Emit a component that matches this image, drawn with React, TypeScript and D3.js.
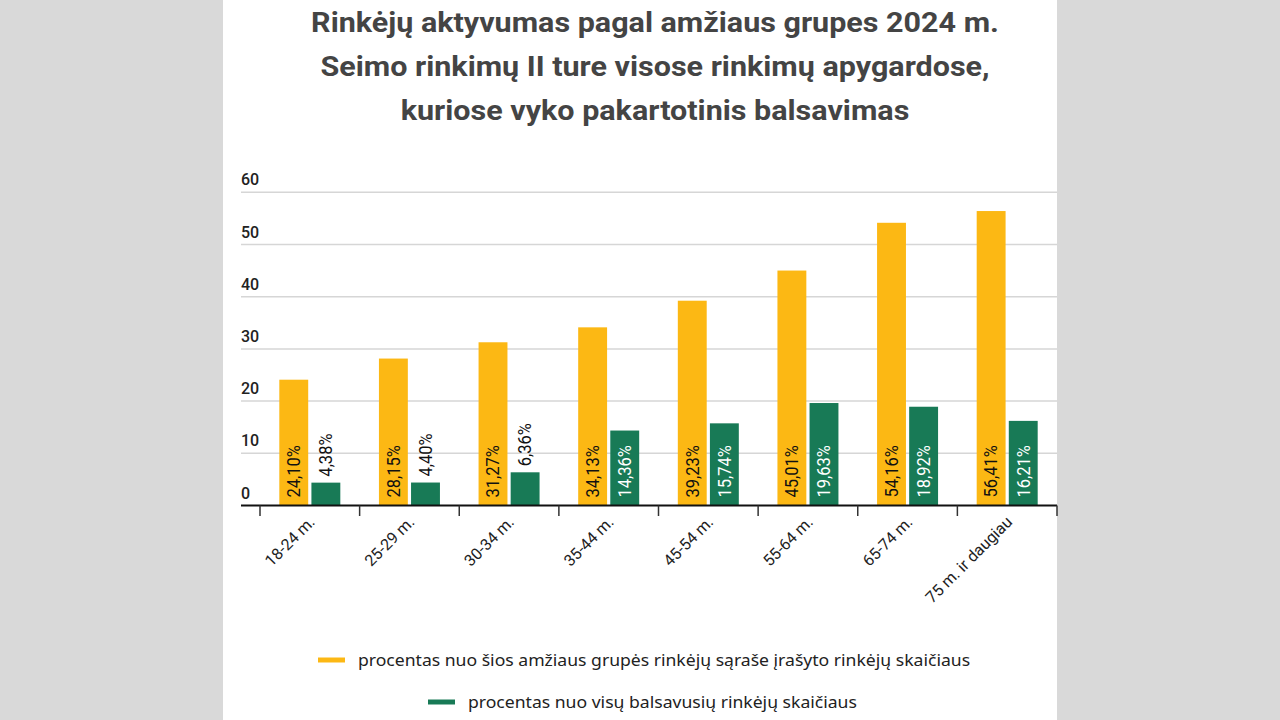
import * as d3 from "d3";
import { useEffect, useRef } from "react";

const categories = [
  "18-24 m.",
  "25-29 m.",
  "30-34 m.",
  "35-44 m.",
  "45-54 m.",
  "55-64 m.",
  "65-74 m.",
  "75 m. ir daugiau",
];
const registeredShare = [24.1, 28.15, 31.27, 34.13, 39.23, 45.01, 54.16, 56.41];
const votedShare = [4.38, 4.4, 6.36, 14.36, 15.74, 19.63, 18.92, 16.21];
const yTicks = [0, 10, 20, 30, 40, 50, 60];
const titleLines = [
  "Rinkėjų aktyvumas pagal amžiaus grupes 2024 m.",
  "Seimo rinkimų II ture visose rinkimų apygardose,",
  "kuriose vyko pakartotinis balsavimas",
];
const seriesNames = [
  "procentas nuo šios amžiaus grupės rinkėjų sąraše įrašyto rinkėjų skaičiaus",
  "procentas nuo visų balsavusių rinkėjų skaičiaus",
];

const YELLOW = "#FCB814";
const GREEN = "#187A56";
const FONT = "Roboto, 'Noto Sans', sans-serif";

export default function App() {
  const svgRef = useRef<SVGSVGElement>(null);

  useEffect(() => {
    if (!svgRef.current) return;
    const svg = d3.select(svgRef.current);
    svg.selectAll("*").remove();

    // page backdrop + white card
    svg.append("rect").attr("width", 1280).attr("height", 720).attr("fill", "#d9d9d9");
    svg.append("rect").attr("x", 223).attr("width", 834).attr("height", 720).attr("fill", "#fff");

    // title (the source image is a bit stretched sideways)
    svg
      .append("g")
      .attr("transform", "translate(655,0) scale(1.13,1)")
      .selectAll("text")
      .data(titleLines)
      .enter()
      .append("text")
      .attr("x", 0)
      .attr("y", (d, i) => 32 + i * 44)
      .attr("text-anchor", "middle")
      .style("font-family", FONT)
      .style("font-size", "27px")
      .style("font-weight", "700")
      .style("fill", "#444")
      .text((d) => d);

    const axisLeft = 241;
    const x0 = d3.scaleBand().domain(categories).range([260, 1057]);
    const x1 = d3.scaleBand().domain(["a", "b"]).range([0, 61]).paddingInner(0.1);
    const y = d3.scaleLinear().domain([0, 60]).range([505.5, 192.3]);

    // gridlines + y labels
    const grid = svg.append("g");
    grid
      .selectAll("line")
      .data(yTicks.filter((t) => t > 0))
      .enter()
      .append("line")
      .attr("x1", axisLeft)
      .attr("x2", 1057)
      .attr("y1", (d) => y(d))
      .attr("y2", (d) => y(d))
      .attr("stroke", "#d6d6d6")
      .attr("stroke-width", 1.5);
    grid
      .selectAll("text")
      .data(yTicks)
      .enter()
      .append("text")
      .attr("x", axisLeft)
      .attr("y", (d) => y(d) - 7)
      .style("font-family", FONT)
      .style("font-size", "16px")
      .style("font-weight", "500")
      .style("fill", "#222")
      .text((d) => d);

    const rows = categories.map((c, i) => ({
      cat: c,
      bars: [
        { key: "a", value: registeredShare[i], color: YELLOW, inner: "#111" },
        { key: "b", value: votedShare[i], color: GREEN, inner: "#fff" },
      ],
    }));

    const groups = svg
      .append("g")
      .selectAll("g")
      .data(rows)
      .enter()
      .append("g")
      .attr("transform", (d) => `translate(${x0(d.cat)! + (x0.bandwidth() - 61) / 2},0)`);

    groups
      .selectAll("rect")
      .data((d) => d.bars)
      .enter()
      .append("rect")
      .attr("x", (d) => x1(d.key)!)
      .attr("width", x1.bandwidth())
      .attr("y", (d) => y(d.value))
      .attr("height", (d) => y(0) - y(d.value))
      .attr("fill", (d) => d.color);

    const fmt = (v: number) => v.toFixed(2).replace(".", ",") + "%";
    groups
      .selectAll("text")
      .data((d) => d.bars)
      .enter()
      .append("text")
      .attr("transform", (d) => {
        const cx = x1(d.key)! + x1.bandwidth() / 2;
        const h = y(0) - y(d.value);
        const inside = h > 60;
        const ty = inside ? y(0) - 8 : y(d.value) - 6;
        return `translate(${cx},${ty}) rotate(-90) scale(1,1.1)`;
      })
      .attr("dominant-baseline", "central")
      .style("font-family", FONT)
      .style("font-size", "16.5px")
      .style("fill", (d) => (y(0) - y(d.value) > 60 ? d.inner : "#111"))
      .text((d) => fmt(d.value));

    // x axis
    const axis = svg.append("g");
    axis
      .append("line")
      .attr("x1", axisLeft)
      .attr("x2", 1057)
      .attr("y1", 505.5)
      .attr("y2", 505.5)
      .attr("stroke", "#111")
      .attr("stroke-width", 2);
    const tickXs = categories.map((c) => x0(c)!).concat([1057]);
    axis
      .selectAll(".tick")
      .data(tickXs)
      .enter()
      .append("line")
      .attr("class", "tick")
      .attr("x1", (d) => d)
      .attr("x2", (d) => d)
      .attr("y1", 505.5)
      .attr("y2", 516)
      .attr("stroke", "#333")
      .attr("stroke-width", 1.5);
    axis
      .selectAll(".xlabel")
      .data(categories)
      .enter()
      .append("text")
      .attr("class", "xlabel")
      .attr("transform", (d) => `translate(${x0(d)! + x0.bandwidth() / 2 + 6},${523}) rotate(-45)`)
      .attr("text-anchor", "end")
      .style("font-family", FONT)
      .style("font-size", "16px")
      .style("fill", "#222")
      .text((d) => d);

    // legend
    const legend = [
      { name: seriesNames[0], color: YELLOW, x: 318, y: 660 },
      { name: seriesNames[1], color: GREEN, x: 428, y: 702 },
    ];
    const lg = svg
      .append("g")
      .selectAll("g")
      .data(legend)
      .enter()
      .append("g")
      .attr("transform", (d) => `translate(${d.x},${d.y})`);
    lg.append("line")
      .attr("x1", 0)
      .attr("x2", 27)
      .attr("stroke", (d) => d.color)
      .attr("stroke-width", 5);
    lg.append("text")
      .attr("transform", "translate(40,0) scale(1.1,1)")
      .attr("dominant-baseline", "central")
      .style("font-family", "'Noto Sans', sans-serif")
      .style("font-size", "16px")
      .style("fill", "#222")
      .text((d) => d.name);
  }, []);

  return (
    <svg
      ref={svgRef}
      width={1280}
      height={720}
      style={{ position: "absolute", left: 0, top: 0, display: "block" }}
    />
  );
}
